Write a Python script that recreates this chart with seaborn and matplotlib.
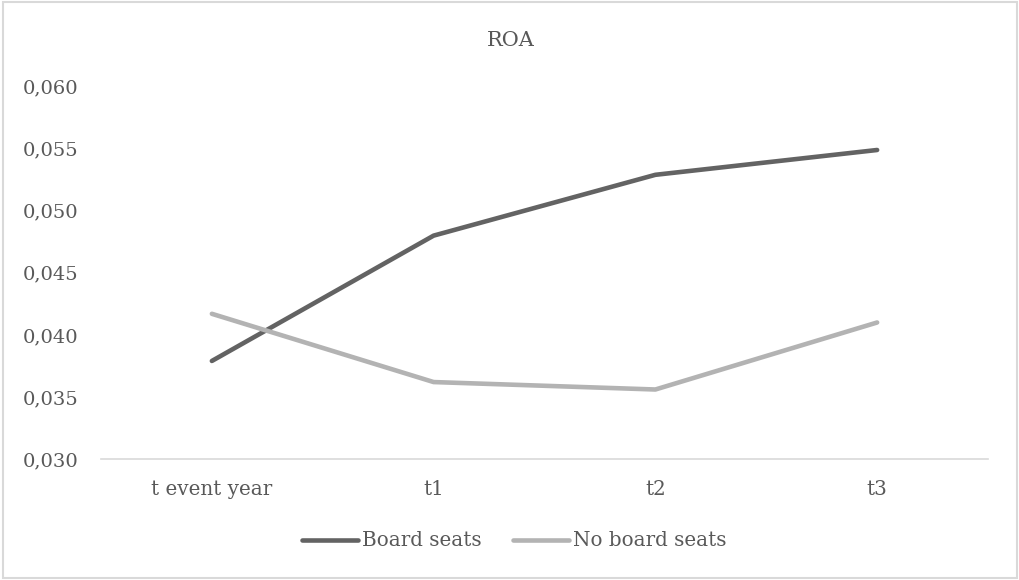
import matplotlib
matplotlib.use("Agg")
import matplotlib.pyplot as plt
import seaborn as sns
import pandas as pd
from matplotlib.patches import Rectangle
from matplotlib.ticker import FuncFormatter

categories = ["t event year", "t1", "t2", "t3"]
board_seats = [0.0379, 0.0480, 0.0529, 0.0549]
no_board_seats = [0.0417, 0.0362, 0.0356, 0.0410]
series_names = ["Board seats", "No board seats"]
y_ticks = [0.030, 0.035, 0.040, 0.045, 0.050, 0.055, 0.060]

df = pd.DataFrame({
    "period": categories * 2,
    "roa": board_seats + no_board_seats,
    "series": [series_names[0]] * 4 + [series_names[1]] * 4,
})

sns.set_theme(style="white")
plt.rcParams["font.family"] = ["DejaVu Serif"]
text_color = "#595959"

fig = plt.figure(figsize=(10.19, 5.80), dpi=100)
ax = fig.add_axes([101 / 1019, 1 - 459 / 580, (988 - 101) / 1019, (459 - 86.7) / 580])

sns.lineplot(data=df, x="period", y="roa", hue="series", sort=False,
             palette={"Board seats": "#636363", "No board seats": "#b3b3b3"},
             linewidth=3.3, legend=False, ax=ax)
for ln in ax.get_lines():
    ln.set_solid_capstyle("round")
    ln.set_solid_joinstyle("round")

ax.set_xlim(-0.5, 3.5)
ax.set_ylim(0.030, 0.060)
ax.set_yticks(y_ticks)
ax.yaxis.set_major_formatter(FuncFormatter(lambda v, p: f"{v:.3f}".replace(".", ",")))
ax.set_xticks(range(len(categories)))
ax.set_xticklabels(categories)
ax.set_xlabel("")
ax.set_ylabel("")
ax.tick_params(axis="y", length=0, pad=16.5, labelsize=14, labelcolor=text_color)
ax.tick_params(axis="x", length=0, pad=15, labelsize=14.3, labelcolor=text_color)
ax.grid(False)
for s in ["top", "right", "left"]:
    ax.spines[s].set_visible(False)
ax.spines["bottom"].set_color("#d9d9d9")
ax.spines["bottom"].set_linewidth(1.2)

fig.text(511 / 1019, 1 - 41 / 580, "ROA", ha="center", va="center",
         fontsize=15, color=text_color)

handles = ax.get_lines()[:2]
leg = fig.legend(handles, series_names, loc="center", bbox_to_anchor=(514 / 1019, 1 - 541 / 580),
                 ncol=2, frameon=False, fontsize=14.3, handlelength=2.8,
                 handletextpad=0.2, columnspacing=1.6, labelcolor=text_color)

fig.patches.append(Rectangle((3 / 1019, 2 / 580), 1014 / 1019, 576 / 580,
                             transform=fig.transFigure, fill=False,
                             edgecolor="#d9d9d9", linewidth=1.5))

fig.savefig("out.png", dpi=100, facecolor="white")
